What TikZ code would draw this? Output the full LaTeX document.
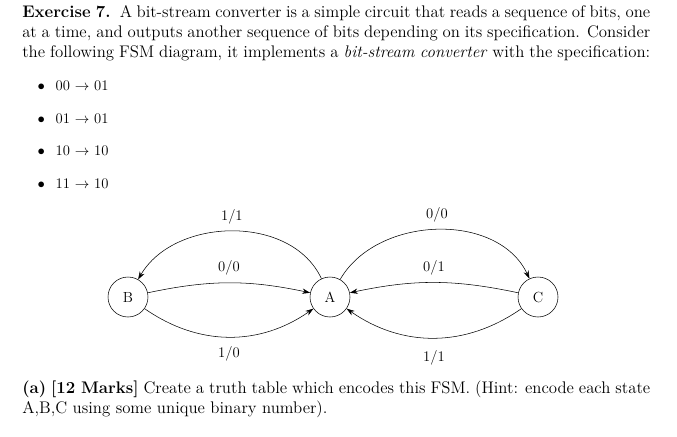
\documentclass[tikz,border=0pt]{standalone}
\usetikzlibrary{arrows.meta}
\begin{document}
\begin{tikzpicture}[x=0.75pt,y=-0.75pt,
  st/.style={circle,draw,minimum size=30pt,inner sep=0pt,font=\fontsize{11}{13}\selectfont},
  edge/.style={-{Stealth[length=6pt,width=4pt]},thin},
  lbl/.style={font=\fontsize{11}{13}\selectfont},
  txt/.style={anchor=north west,inner sep=0pt,font=\fontsize{12.6}{15}\selectfont}]
\useasboundingbox (0,0) rectangle (677,436);
\node[txt,text width=471pt,align=justify] (p) at (22,5) {\textbf{Exercise 7.}\ \ A bit-stream converter is a simple circuit that reads a sequence of bits, one at a time, and outputs another sequence of bits depending on its specification. Consider the following FSM diagram, it implements a \textit{bit-stream converter} with the specification:};
\foreach \y/\t [count=\i] in {86/00 $\rightarrow$ 01,119/01 $\rightarrow$ 01,151/10 $\rightarrow$ 10,184/11 $\rightarrow$ 10}{
  \node[lbl,anchor=west] (b\i) at (33,\y) {$\bullet$\hspace{8pt}\t};
}
\node[st] (B) at (128,297) {B};
\node[st] (A) at (330,297) {A};
\node[st] (C) at (538,297) {C};
\draw[edge] (A) to[out=115,in=60] node[lbl,above=2pt,pos=0.5] {1/1} (B);
\draw[edge] (B) to[bend left=12] node[lbl,above=2pt] {0/0} (A);
\draw[edge] (B) to[bend right=35] node[lbl,below=4pt] {1/0} (A);
\draw[edge] (A) to[out=60,in=115] node[lbl,above=2pt] {0/0} (C);
\draw[edge] (C) to[bend right=12] node[lbl,above=2pt] {0/1} (A);
\draw[edge] (C) to[bend left=35] node[lbl,below=6pt] {1/1} (A);
\node[txt,text width=471pt,align=justify] (q) at (22,381) {\textbf{(a)} \textbf{[12 Marks]} Create a truth table which encodes this FSM. (Hint: encode each state A,B,C using some unique binary number).};
\end{tikzpicture}
\end{document}
